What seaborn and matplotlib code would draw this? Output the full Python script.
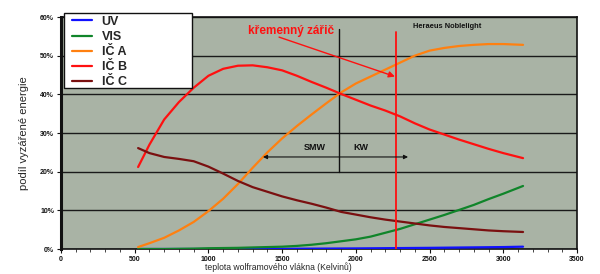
import matplotlib
matplotlib.use("Agg")
import matplotlib.pyplot as plt
import seaborn as sns
import pandas as pd
from matplotlib.ticker import MultipleLocator, FuncFormatter
from matplotlib.lines import Line2D
from matplotlib.patches import Rectangle

# ---- data ----
temp_k = [523, 600, 700, 800, 900, 1000, 1100, 1200, 1300, 1400, 1500, 1600, 1700,
          1800, 1900, 2000, 2100, 2200, 2300, 2400, 2500, 2600, 2700, 2800, 2900, 3000, 3134]
uv = [0, 0, 0, 0, 0, 0, 0, 0.01, 0.02, 0.03, 0.05, 0.07, 0.09, 0.11, 0.13, 0.15, 0.18,
      0.21, 0.24, 0.27, 0.3, 0.34, 0.38, 0.42, 0.46, 0.5, 0.6]
vis = [0, 0, 0, 0.05, 0.1, 0.2, 0.25, 0.3, 0.4, 0.5, 0.6, 0.8, 1.1, 1.5, 2.0, 2.5, 3.2,
       4.2, 5.2, 6.4, 7.6, 8.8, 10.1, 11.4, 12.9, 14.3, 16.3]
ic_a = [0.5, 1.5, 2.9, 4.8, 7.0, 9.8, 13.0, 16.8, 21.0, 25.0, 28.6, 31.8, 34.8, 37.7,
        40.5, 42.8, 44.6, 46.4, 48.2, 50.0, 51.3, 52.0, 52.5, 52.8, 53.0, 53.0, 52.8]
ic_b = [21.2, 27.0, 33.5, 38.0, 41.7, 44.8, 46.6, 47.4, 47.5, 47.0, 46.2, 44.8, 43.2,
        41.7, 40.1, 38.6, 37.1, 35.8, 34.3, 32.5, 30.9, 29.6, 28.3, 27.1, 25.9, 24.8, 23.5]
ic_c = [26.1, 24.8, 23.8, 23.3, 22.7, 21.3, 19.5, 17.6, 16.0, 14.8, 13.6, 12.6, 11.7,
        10.7, 9.6, 8.9, 8.2, 7.6, 7.1, 6.6, 6.1, 5.7, 5.4, 5.1, 4.8, 4.6, 4.4]

series_names = ["UV", "VIS", "IČ A", "IČ B", "IČ C"]
series_colors = ["#1010ff", "#10852a", "#ff8010", "#ff1010", "#7a1010"]
x_ticks = [0, 500, 1000, 1500, 2000, 2500, 3000, 3500]
y_ticks = [0, 10, 20, 30, 40, 50, 60]

df = pd.DataFrame({"T": temp_k, "UV": uv, "VIS": vis, "IČ A": ic_a, "IČ B": ic_b, "IČ C": ic_c})
long = df.melt(id_vars="T", var_name="serie", value_name="podil")

sns.set_theme(style="white")
plt.rcParams['font.family'] = ['Liberation Sans', 'DejaVu Sans']

fig = plt.figure(figsize=(6.0, 2.74), dpi=100)
ax = fig.add_axes([61/600, 1-249/274, 516/600, 232/274])
ax.set_facecolor("#a9b3a5")

sns.lineplot(data=long, x="T", y="podil", hue="serie", hue_order=series_names,
             palette=series_colors, linewidth=1.6, ax=ax, legend=False, zorder=3)

ax.set_xlim(0, 3500)
ax.set_ylim(0, 60)
ax.set_xticks(x_ticks)
ax.set_yticks(y_ticks)
ax.xaxis.set_minor_locator(MultipleLocator(100))
ax.yaxis.set_major_formatter(FuncFormatter(lambda v, p: f"{int(v)}%"))
ax.grid(axis="y", color="#1a1a1a", linewidth=1.0, zorder=1)
ax.set_axisbelow(True)
ax.tick_params(axis="both", which="major", labelsize=5, length=3, width=0.8,
               colors="#111111", direction="out", bottom=True, left=True, pad=2)
ax.tick_params(axis="x", which="minor", length=2, width=0.6, bottom=True)
for lab in ax.get_xticklabels() + ax.get_yticklabels():
    lab.set_fontweight("bold")
for side in ["left", "right", "top", "bottom"]:
    ax.spines[side].set_color("#111111")
    ax.spines[side].set_linewidth(1.2)
ax.spines["left"].set_linewidth(2.2)

ax.set_xlabel("teplota wolframového vlákna (Kelvinů)", fontsize=6.2, va="center")
ax.xaxis.set_label_coords(0.422, -0.078)
ax.set_ylabel("podíl vyzářené energie", fontsize=8, labelpad=8)

# vertical lines
ax.plot([1886, 1886], [20, 56.9], color="#111111", linewidth=1.0, zorder=2)
ax.plot([2273, 2273], [0, 56.2], color="#ff1010", linewidth=1.3, zorder=4)

# annotation
ax.text(1560, 56.4, "křemenný zářič", color="#ff1010", fontsize=8.5, fontweight="bold",
        ha="center", va="center", zorder=5)
ax.annotate("", xy=(2265, 44.6), xytext=(1479, 54.8),
            arrowprops=dict(arrowstyle="-|>", color="#ff1010", lw=1.0,
                            mutation_scale=9, shrinkA=0, shrinkB=0), zorder=5)
ax.text(2385, 57.6, "Heraeus Noblelight", color="#111111", fontsize=5.4,
        fontweight="bold", ha="left", va="center", zorder=5)

# SMW / KW arrow
ax.annotate("", xy=(1370, 23.8), xytext=(2354, 23.8),
            arrowprops=dict(arrowstyle="<|-|>", color="#111111", lw=0.8,
                            mutation_scale=6, shrinkA=0, shrinkB=0), zorder=5)
ax.text(1720, 26.2, "SMW", fontsize=6.5, fontweight="bold", ha="center", va="center", color="#111111")
ax.text(2035, 26.2, "KW", fontsize=6.5, fontweight="bold", ha="center", va="center", color="#111111")

# legend box
box = Rectangle((64/600, 1-88/274), 128/600, 75/274, transform=fig.transFigure,
                facecolor="white", edgecolor="#111111", linewidth=1.0, zorder=9)
fig.patches.append(box)
handles = [Line2D([0], [0], color=c, linewidth=1.6) for c in series_colors]
leg = fig.legend(handles, series_names, loc="upper left", bbox_to_anchor=(68/600, 1-12/274),
                 frameon=False, handlelength=1.6, handletextpad=0.8, labelspacing=0.25,
                 borderpad=0.3, borderaxespad=0, prop={"weight": "bold", "size": 9})
leg.set_zorder(10)

fig.savefig("out.png", dpi=100)
